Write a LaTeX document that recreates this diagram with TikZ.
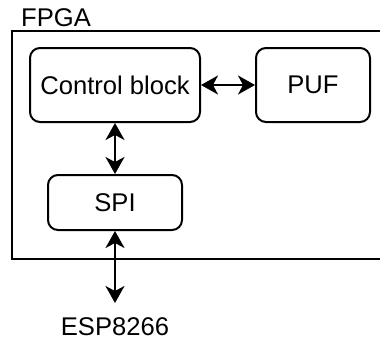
\documentclass[tikz,border=0pt]{standalone}
\usepackage{fontspec}
\setmainfont{Liberation Sans}
\usetikzlibrary{arrows.meta}
\begin{document}
\begin{tikzpicture}[x=1pt,y=-1pt,
  txt/.style={font=\fontsize{25.6}{30}\selectfont},
  blk/.style={txt, draw, line width=2pt, rounded corners=10pt, inner sep=0pt},
  lbl/.style={txt, inner sep=0pt},
  tip/.tip={Stealth[length=17pt,width=19pt,inset=5pt]},
  link/.style={line width=2pt, tip-tip}]
  % page frame
  \clip (0,0) rectangle (380,340);
  % FPGA enclosure (runs past the right edge)
  \draw[line width=2pt] (12,31) rectangle (392,259);
  \node[lbl, anchor=base west] (fpga) at (21,26.7) {FPGA};
  % functional blocks
  \node[blk, minimum width=170pt, minimum height=74pt] (ctl) at (115,85) {Control block};
  \node[blk, minimum width=114pt, minimum height=74pt] (puf) at (313,85) {PUF};
  \node[blk, minimum width=134pt, minimum height=55pt] (spi) at (115,202.5) {SPI};
  % external device
  \node[lbl, anchor=base] (esp) at (115,335) {ESP8266};
  \coordinate (espin) at (115,303);
  % links
  \draw[link] (ctl) -- (puf);
  \draw[link] (ctl) -- (spi);
  \draw[link] (spi) -- (espin);
\end{tikzpicture}
\end{document}
